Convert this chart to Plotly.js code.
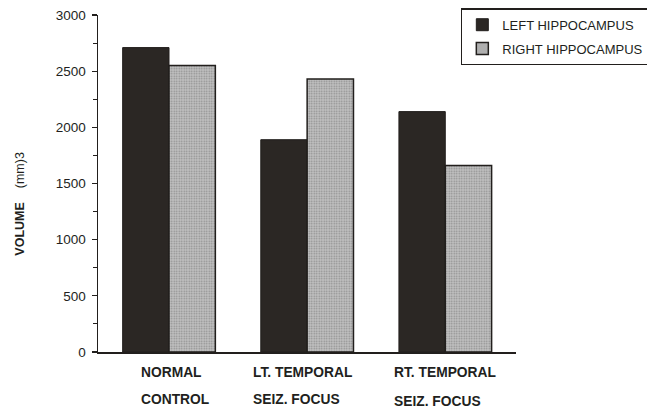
<!DOCTYPE html>
<html>
<head>
<meta charset="utf-8">
<script src="https://cdn.plot.ly/plotly-3.0.1.min.js"></script>
<style>
  html, body { margin: 0; padding: 0; background: #fff; }
  #chart { width: 647px; height: 419px; }
</style>
</head>
<body>
<div id="chart"></div>
<script>
// ---- data ----
const categories = [0, 1, 2];
const catLine1 = ["NORMAL", "LT. TEMPORAL", "RT. TEMPORAL"];
const catLine2 = ["CONTROL", "SEIZ. FOCUS", "SEIZ. FOCUS"];
const leftHippocampus = [2710, 1890, 2140];
const rightHippocampus = [2550, 2430, 1660];
const seriesNames = ["LEFT HIPPOCAMPUS", "RIGHT HIPPOCAMPUS"];
const yTickVals = [0, 500, 1000, 1500, 2000, 2500, 3000];

// ---- styling (not data) ----
const labelShift = [-30, -56, -53];
const ink = "#221f1d";
const font = "Liberation Sans, Arial, Helvetica, sans-serif";

const traces = [
  {
    type: "bar",
    name: seriesNames[0],
    x: categories,
    y: leftHippocampus,
    legendgroup: "a",
    marker: { color: "#2b2724", line: { color: ink, width: 1 } }
  },
  {
    type: "bar",
    name: seriesNames[1],
    x: categories,
    y: rightHippocampus,
    legendgroup: "b",
    marker: {
      color: "#b5b5b5",
      line: { color: ink, width: 1.5 },
      pattern: { shape: ".", bgcolor: "#c3c3c3", fgcolor: "#8c8c8c", size: 2.5, solidity: 0.35 }
    }
  }
];

const annotations = [];
categories.forEach((c, i) => {
  annotations.push({
    x: c, xref: "x", y: -0.0623, yref: "paper",
    text: "<b>" + catLine1[i] + "</b>", showarrow: false,
    xanchor: "left", yanchor: "middle", xshift: labelShift[i],
    font: { family: font, size: 13.8, color: ink }
  });
  annotations.push({
    x: c, xref: "x", y: i === 2 ? -0.148 : -0.1424, yref: "paper",
    text: "<b>" + catLine2[i] + "</b>", showarrow: false,
    xanchor: "left", yanchor: "middle", xshift: labelShift[i],
    font: { family: font, size: 13.8, color: ink }
  });
});
annotations.push({
  x: -0.186, xref: "paper", y: 0.441, yref: "paper",
  text: "<b>VOLUME</b>&nbsp;&nbsp;&nbsp;&nbsp;(mm)3",
  textangle: -90, showarrow: false,
  xanchor: "center", yanchor: "middle",
  font: { family: font, size: 12.5, color: ink }
});

const layout = {
  width: 647, height: 419,
  margin: { l: 98, r: 131, t: 15, b: 67, pad: 0, autoexpand: false },
  paper_bgcolor: "#ffffff",
  plot_bgcolor: "#ffffff",
  font: { family: font, size: 13.5, color: ink },
  barmode: "group",
  bargap: 0.329,
  bargroupgap: 0,
  showlegend: true,
  legend: {
    x: 0.868, xanchor: "left",
    y: 1.02, yanchor: "top",
    bgcolor: "#ffffff",
    bordercolor: ink, borderwidth: 1.5,
    traceorder: "grouped",
    tracegroupgap: 4,
    font: { family: font, size: 13, color: ink }
  },
  xaxis: {
    type: "linear",
    range: [-0.514, 2.512],
    showticklabels: false,
    ticks: "",
    showgrid: false,
    zeroline: false,
    showline: true, linecolor: ink, linewidth: 1.5,
    fixedrange: true,
    automargin: false
  },
  yaxis: {
    range: [0, 3000],
    tickvals: yTickVals,
    ticks: "outside", ticklen: 5, tickwidth: 1.2, tickcolor: ink,
    minor: { dtick: 250, ticks: "outside", ticklen: 4, tickwidth: 1, tickcolor: ink },
    ticklabelstandoff: 3,
    tickfont: { family: font, size: 13.5, color: ink },
    showgrid: false,
    zeroline: false,
    showline: true, linecolor: ink, linewidth: 1.5,
    fixedrange: true,
    automargin: false
  },
  annotations: annotations
};

Plotly.newPlot("chart", traces, layout, { displayModeBar: false, staticPlot: true });
</script>
</body>
</html>
